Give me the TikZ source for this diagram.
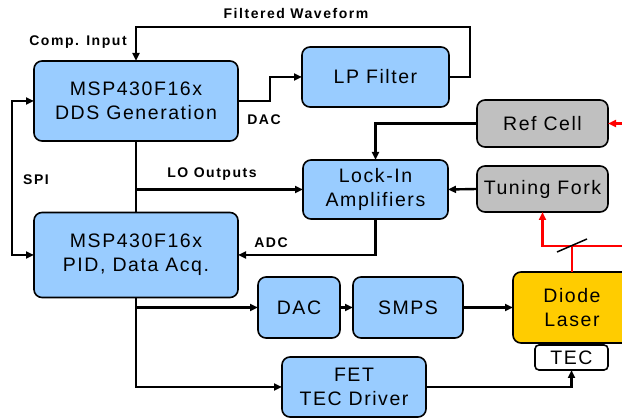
\documentclass[tikz,border=0pt]{standalone}
\usepackage{fontspec}
\setmainfont{Liberation Sans}
\newfontfamily\boxfont[LetterSpace=8]{Liberation Sans}
\newfontfamily\lblfont[LetterSpace=11]{Liberation Sans}
\usetikzlibrary{arrows.meta}
\definecolor{blu}{HTML}{99CCFF}
\definecolor{gry}{HTML}{C0C0C0}
\definecolor{ylw}{HTML}{FFCC00}
\begin{document}
\begin{tikzpicture}[x=1pt,y=-1pt,
  blk/.style={draw, line width=1.6pt, rounded corners=8pt, fill=blu, inner sep=0pt, outer sep=0pt,
    align=center, font=\boxfont\fontsize{19.5}{24}\selectfont},
  gblk/.style={blk, fill=gry},
  conn/.style={line width=2.4pt, -{Triangle[length=8pt,width=7pt]}},
  rconn/.style={conn, draw=red, color=red},
  lbl/.style={font=\lblfont\bfseries\fontsize{14}{16}\selectfont, inner sep=0pt}]
\useasboundingbox (0,0) rectangle (622,419);

% boxes
\node[blk, minimum width=204pt, minimum height=80pt] (dds) at (136,101) {MSP430F16x\\DDS Generation};
\node[blk, minimum width=147pt, minimum height=60pt] (lp) at (375.5,77) {LP Filter};
\node[gblk, minimum width=131pt, minimum height=47pt] (ref) at (542.5,123.5) {Ref Cell};
\node[blk, minimum width=145pt, minimum height=59pt] (lock) at (375.5,189.5) {Lock-In\\Amplifiers};
\node[gblk, minimum width=131pt, minimum height=46pt] (tf) at (542.5,189) {Tuning Fork};
\node[blk, minimum width=204pt, minimum height=85pt] (pid) at (136,255) {MSP430F16x\\PID, Data Acq.};
\node[blk, minimum width=82pt, minimum height=61pt] (dac) at (299,307.5) {DAC};
\node[blk, minimum width=110pt, minimum height=61pt] (smps) at (408,307.5) {SMPS};
\node[blk, fill=ylw, minimum width=118pt, minimum height=71pt] (laser) at (572,307.5) {Diode\\Laser};
\node[blk, fill=white, rounded corners=4pt, minimum width=73pt, minimum height=25pt] (tec) at (571.5,357.5) {TEC};
\node[blk, minimum width=144pt, minimum height=60pt] (fet) at (354,387) {FET\\TEC Driver};

% coordinates
\coordinate (fw) at (470,27);
\coordinate (dj) at (270,101);
\coordinate (spi) at (12,180);
\coordinate (lo) at (136,189.5);
\coordinate (dacj) at (136,307.5);
\coordinate (rs) at (572,246);
\coordinate (re) at (626,246);
\coordinate (rre) at (626,123.5);
\coordinate (bs1) at (557,252);
\coordinate (bs2) at (587,239);

% connectors
\draw[conn] (lp.east) -| (fw) -| (dds.north);
\draw[conn] (dds.east) -- (dj) |- (lp.west);
\draw[conn, {Triangle[length=8pt,width=7pt]}-{Triangle[length=8pt,width=7pt]}] (dds.west) -| (spi) |- (pid.west);
\draw[line width=2.4pt] (dds.south) -- (pid.north);
\draw[conn] (lo) -- (lock.west);
\draw[conn] (ref.west) -| (lock.north);
\draw[conn] (tf.west) -- (lock.east);
\draw[conn] (lock.south) |- (pid.east);
\draw[conn] (pid.south) |- (fet.west);
\draw[conn] (dacj) -- (dac.west);
\draw[conn] (dac.east) -- (smps.west);
\draw[conn] (smps.east) -- (laser.west);
\draw[conn] (fet.east) -| (tec.south);

% optical paths
\draw[red, line width=2.4pt] (laser.north) -- (rs);
\draw[rconn] (re) -| (tf.south);
\draw[rconn] (rre) -- (ref.east);
\draw[line width=1.5pt] (bs1) -- (bs2);

% labels
\node[lbl] (lfw) at (296,14) {Filtered Waveform};
\node[lbl] (lci) at (78,42) {Comp. Input};
\node[lbl] (ldac) at (264,120) {DAC};
\node[lbl] (lspi) at (36,180) {SPI};
\node[lbl] (llo) at (212,174) {LO Outputs};
\node[lbl] (ladc) at (271,243) {ADC};
\end{tikzpicture}
\end{document}
